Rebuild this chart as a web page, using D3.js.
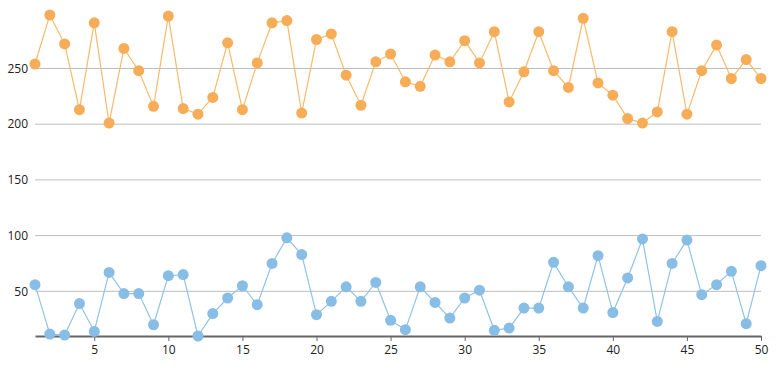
<!DOCTYPE html>
<html>
<head>
<meta charset="utf-8">
<script src="https://cdn.jsdelivr.net/npm/d3@7"></script>
<style>
  body { margin: 0; background: #fff; }
  svg text { font-family: "Open Sans", "Noto Sans", sans-serif; font-size: 12px; fill: #222; }
</style>
</head>
<body>
<svg width="778" height="366"></svg>
<script>
// x positions 1..50
var xValues = d3.range(1, 51);

// upper series (orange)
var seriesA = [254, 298, 272, 213, 291, 201, 268, 248, 216, 297,
               214, 209, 224, 273, 213, 255, 291, 293, 210, 276,
               281, 244, 217, 256, 263, 238, 234, 262, 256, 275,
               255, 283, 220, 247, 283, 248, 233, 295, 237, 226,
               205, 201, 211, 283, 209, 248, 271, 241, 258, 241];

// lower series (blue)
var seriesB = [56, 11.6, 10.7, 39, 14, 67, 48, 48, 20, 64,
               65, 9.9, 30, 44, 55, 38, 75, 98, 83, 29,
               41, 54, 41, 58, 24, 15.6, 54, 40, 26, 44,
               51, 15, 17, 35, 35, 76, 54, 35, 82, 31,
               62, 97, 23, 75, 96, 47, 56, 68, 21, 73];

var yTicks = [50, 100, 150, 200, 250];
var xTicks = [5, 10, 15, 20, 25, 30, 35, 40, 45, 50];

var svg = d3.select("svg"),
    margin = {top: 15, right: 17, bottom: 30, left: 35},
    width = +svg.attr("width") - margin.left - margin.right,
    height = +svg.attr("height") - margin.top - margin.bottom;

var g = svg.append("g").attr("transform", "translate(" + margin.left + "," + margin.top + ")");

var x = d3.scaleLinear().domain([1, 50]).range([0, width]);
var y = d3.scaleLinear()
    .domain(d3.extent(seriesA.concat(seriesB)))
    .range([height, 0]);

// gridlines
g.append("g")
    .selectAll("line")
    .data(yTicks)
    .enter().append("line")
    .attr("x1", 0).attr("x2", width)
    .attr("y1", d => y(d)).attr("y2", d => y(d))
    .attr("stroke", "#bdbdbd")
    .attr("stroke-width", 1);

// y labels
g.append("g")
    .selectAll("text")
    .data(yTicks)
    .enter().append("text")
    .attr("x", -7)
    .attr("y", d => y(d))
    .attr("dy", "0.35em")
    .attr("text-anchor", "end")
    .text(d => d);

// x axis
var xAxis = g.append("g")
    .attr("transform", "translate(0," + height + ")")
    .call(d3.axisBottom(x).tickValues(xTicks).tickSize(5).tickSizeOuter(0).tickPadding(4));
xAxis.select(".domain").attr("stroke", "#666").attr("stroke-width", 2);
xAxis.selectAll(".tick line").attr("stroke", "#666");
xAxis.selectAll("text").style("font-size", "12px").attr("fill", "#222");

function drawSeries(values, lineColor, dotColor) {
    var data = xValues.map((d, i) => [d, values[i]]);
    g.append("path")
        .datum(data)
        .attr("fill", "none")
        .attr("stroke", lineColor)
        .attr("stroke-width", 1.2)
        .attr("d", d3.line().x(d => x(d[0])).y(d => y(d[1])));
    g.append("g")
        .selectAll("circle")
        .data(data)
        .enter().append("circle")
        .attr("cx", d => x(d[0]))
        .attr("cy", d => y(d[1]))
        .attr("r", 5.5)
        .attr("fill", dotColor);
}

drawSeries(seriesA, "#f5bb6c", "#f7ad57");
drawSeries(seriesB, "#92c2e6", "#88bde6");
</script>
</body>
</html>
